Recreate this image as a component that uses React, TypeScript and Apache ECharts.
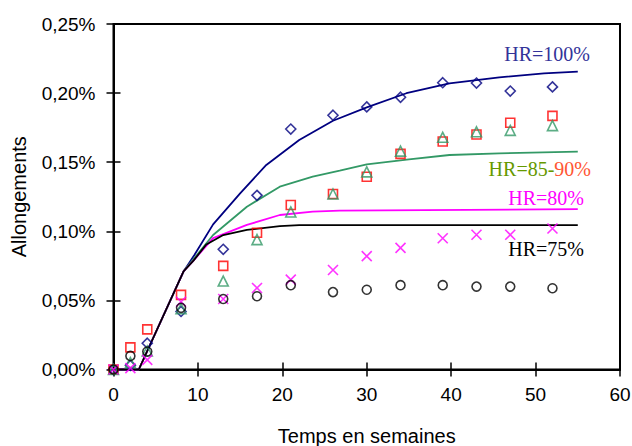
import React, { useEffect, useRef } from "react";
import * as echarts from "echarts";

// Measurement weeks
const weeks = [0, 2, 4, 8, 13, 17, 21, 26, 30, 34, 39, 43, 47, 52];
// Measured values (%)
const hr100 = [0, 0.003, 0.019, 0.042, 0.087, 0.126, 0.174, 0.184, 0.19, 0.197, 0.2075, 0.2073, 0.2015, 0.2045];
const hr90 = [0, 0.016, 0.029, 0.054, 0.075, 0.099, 0.119, 0.127, 0.1395, 0.156, 0.165, 0.17, 0.1785, 0.1835];
const hr85 = [0, 0.005, 0.0134, 0.044, 0.064, 0.094, 0.114, 0.127, 0.143, 0.158, 0.168, 0.172, 0.173, 0.1765];
const hr80 = [0, 0.001, 0.007, 0.049, 0.051, 0.059, 0.065, 0.072, 0.082, 0.088, 0.095, 0.0975, 0.0975, 0.102];
const hr75 = [0, 0.0098, 0.013, 0.0446, 0.051, 0.053, 0.061, 0.056, 0.0577, 0.061, 0.061, 0.06, 0.06, 0.0588];

// Model curves
const m100T = [0, 3, 8.3, 9.6, 11.8, 15, 18.1, 22, 26, 30, 34.7, 39.8, 45.7, 51, 55];
const m100V = [0, 0, 0.071, 0.083, 0.105, 0.1275, 0.148, 0.166, 0.18, 0.1897, 0.1999, 0.2071, 0.2114, 0.2143, 0.2155];
const m85T = [0, 3, 8.3, 9.5, 11.8, 15.8, 19.7, 23.6, 26.8, 30, 35, 39.8, 45.7, 55];
const m85V = [0, 0, 0.071, 0.08, 0.0973, 0.1178, 0.1323, 0.1395, 0.1439, 0.1485, 0.152, 0.1552, 0.1564, 0.1576];
const m80T = [0, 3, 8.3, 9.5, 11.8, 15.8, 19.7, 23.6, 26.8, 55];
const m80V = [0, 0, 0.071, 0.079, 0.095, 0.1046, 0.1118, 0.1142, 0.115, 0.116];
const m75T = [0, 3, 8.3, 9.5, 11, 13, 15.8, 19.7, 22, 55];
const m75V = [0, 0, 0.071, 0.079, 0.0905, 0.0973, 0.101, 0.1037, 0.1045, 0.1045];

const zip = (a: number[], b: number[]) => a.map((x, i) => [x, b[i]]);

export default function App() {
  const ref = useRef<HTMLDivElement>(null);
  useEffect(() => {
    if (!ref.current) return;
    const chart = echarts.init(ref.current, undefined, { renderer: "svg" });
    const sans = "Liberation Sans, Arial, sans-serif";
    const serif = "Liberation Serif, Times New Roman, serif";
    const marker = (name: string, data: number[], symbol: string, size: number, color: string) => ({
      name,
      type: "scatter",
      data: zip(weeks, data),
      symbol,
      symbolSize: size,
      itemStyle: { color: "rgba(0,0,0,0)", borderColor: color, borderWidth: 1.6 },
      z: 3,
    });
    const line = (name: string, t: number[], v: number[], color: string) => ({
      name,
      type: "line",
      data: zip(t, v),
      symbol: "none",
      lineStyle: { color, width: 1.8 },
      z: 2,
    });
    const fmt = (v: number) => v.toFixed(2).replace(".", ",") + "%";
    chart.setOption({
      animation: false,
      backgroundColor: "#fff",
      grid: {
        left: 113.5,
        right: 12,
        top: 24,
        bottom: 76.5,
        outerBoundsMode: "none",
        containLabel: false,
        show: true,
        borderColor: "#000",
        borderWidth: 2,
        backgroundColor: "transparent",
      },
      xAxis: [
        {
          type: "value",
          min: 0,
          max: 60,
          interval: 10,
          name: "Temps en semaines",
          nameLocation: "middle",
          nameGap: 56,
          nameTextStyle: { fontFamily: sans, fontSize: 20, color: "#000" },
          axisLine: { show: true, onZero: false, lineStyle: { color: "#000", width: 2 } },
          axisTick: { show: true, inside: false, length: 7, lineStyle: { color: "#000", width: 1.5 } },
          axisLabel: { fontFamily: sans, fontSize: 19, color: "#000", margin: 15 },
          splitLine: { show: false },
        },
        {
          type: "value",
          min: 0,
          max: 60,
          interval: 10,
          position: "bottom",
          axisLine: { show: false },
          axisTick: { show: true, inside: true, length: 7, lineStyle: { color: "#000", width: 1.5 } },
          axisLabel: { show: false },
          splitLine: { show: false },
        },
      ],
      yAxis: [
        {
          type: "value",
          min: 0,
          max: 0.25,
          interval: 0.05,
          name: "Allongements",
          nameLocation: "middle",
          nameGap: 85,
          nameTextStyle: { fontFamily: sans, fontSize: 20, color: "#000" },
          axisLine: { show: true, onZero: false, lineStyle: { color: "#000", width: 2 } },
          axisTick: { show: true, inside: false, length: 7, lineStyle: { color: "#000", width: 1.5 } },
          axisLabel: {
            fontFamily: sans,
            fontSize: 19,
            color: "#000",
            margin: 18,
            formatter: (v: number) => fmt(v),
          },
          splitLine: { show: false },
        },
        {
          type: "value",
          min: 0,
          max: 0.25,
          interval: 0.05,
          position: "left",
          axisLine: { show: false },
          axisTick: { show: true, inside: true, length: 7, lineStyle: { color: "#000", width: 1.5 } },
          axisLabel: { show: false },
          splitLine: { show: false },
        },
      ],
      series: [
        line("Modèle HR=100%", m100T, m100V, "#000080"),
        line("Modèle HR=85-90%", m85T, m85V, "#339966"),
        line("Modèle HR=80%", m80T, m80V, "#FF00FF"),
        line("Modèle HR=75%", m75T, m75V, "#000000"),
        marker("HR=100%", hr100, "diamond", 10, "#000080"),
        marker("HR=90%", hr90, "rect", 9, "#FF0000"),
        marker("HR=85%", hr85, "triangle", 10, "#339966"),
        marker("HR=80%", hr80, "path://M0,0L10,10M10,0L0,10", 10, "#FF00FF"),
        marker("HR=75%", hr75, "circle", 9, "#000000"),
      ],
      graphic: [
        {
          type: "text",
          right: 632 - 590,
          top: 44,
          style: { text: "HR=100%", fill: "#333399", font: `20px ${serif}` },
        },
        {
          type: "text",
          right: 632 - 591,
          top: 159,
          style: {
            text: "{a|HR=85-}{b|90%}",
            rich: {
              a: { fill: "#669900", fontFamily: serif, fontSize: 20 },
              b: { fill: "#FF5533", fontFamily: serif, fontSize: 20 },
            },
          },
        },
        {
          type: "text",
          right: 632 - 584,
          top: 188,
          style: { text: "HR=80%", fill: "#FF00FF", font: `20px ${serif}` },
        },
        {
          type: "text",
          right: 632 - 584,
          top: 239,
          style: { text: "HR=75%", fill: "#000000", font: `20px ${serif}` },
        },
      ],
    });
    return () => chart.dispose();
  }, []);
  return (
    <div
      ref={ref}
      style={{ position: "fixed", left: 0, top: 0, width: 632, height: 446, background: "#fff" }}
    />
  );
}
